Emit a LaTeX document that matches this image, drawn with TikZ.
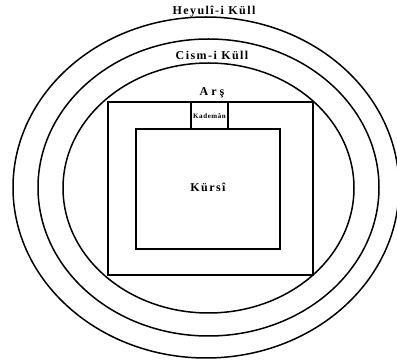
\documentclass[tikz,border=0pt]{standalone}
\usepackage{fontspec}
\setmainfont{Liberation Serif}
\begin{document}
\begin{tikzpicture}[x=1pt,y=-1pt,
  ring/.style={line width=1.5pt},
  box/.style={line width=1.2pt},
  lbl/.style={inner sep=0pt, font=\bfseries\fontsize{12}{14}\selectfont\addfontfeatures{LetterSpace=12}},
  small/.style={inner sep=0pt, font=\bfseries\fontsize{7}{8}\selectfont\addfontfeatures{LetterSpace=8}}]
\useasboundingbox (0,0) rectangle (397,363);
% spheres
\draw[ring] (206,187.5) ellipse [x radius=193pt, y radius=170.5pt];
\draw[ring] (208.5,187.5) ellipse [x radius=170.5pt, y radius=148.5pt];
\draw[ring] (208.5,188) ellipse [x radius=145.5pt, y radius=125pt];
% boxes
\draw[box] (108,102) rectangle (313,275);
\draw[box] (136,129) rectangle (280,249);
\draw[box] (191,102) rectangle (228,129);
% labels
\node[lbl] (heyuli) at (214,12) {Heyulî-i Küll};
\node[lbl] (cism) at (212,55) {Cism-i Küll};
\node[lbl, font=\bfseries\fontsize{12}{14}\selectfont\addfontfeatures{LetterSpace=25}] (ars) at (212,93) {Arş};
\node[small] (kademan) at (209.5,116) {Kademân};
\node[lbl] (kursi) at (208,187) {Kürsî};
\end{tikzpicture}
\end{document}
